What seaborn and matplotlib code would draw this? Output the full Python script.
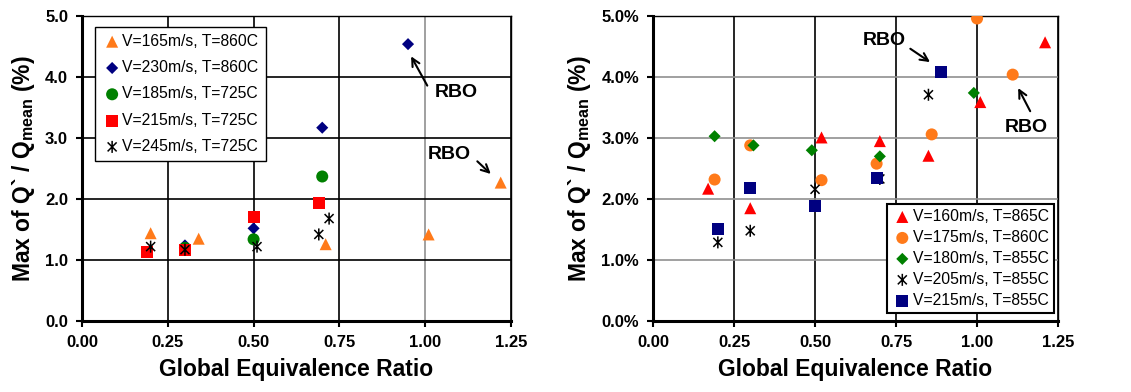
import numpy as np
import pandas as pd
import matplotlib
matplotlib.use("Agg")
import matplotlib.pyplot as plt
from matplotlib.path import Path
import seaborn as sns

sns.set_style("white")
plt.rcParams["font.family"] = ["Liberation Sans", "DejaVu Sans"]
plt.rcParams["mathtext.fontset"] = "custom"
plt.rcParams["mathtext.bf"] = "Liberation Sans:bold"
plt.rcParams["mathtext.rm"] = "Liberation Sans"
for key in ["text.color", "axes.labelcolor", "xtick.color", "ytick.color"]:
    plt.rcParams[key] = "black"

# ---- left panel data ----
left_labels = ["V=165m/s, T=860C", "V=230m/s, T=860C", "V=185m/s, T=725C",
               "V=215m/s, T=725C", "V=245m/s, T=725C"]
l165_x = [0.20, 0.34, 0.71, 1.01, 1.22]
l165_y = [1.44, 1.35, 1.26, 1.42, 2.27]
l230_x = [0.30, 0.50, 0.70, 0.95]
l230_y = [1.24, 1.52, 3.17, 4.54]
l185_x = [0.30, 0.50, 0.70]
l185_y = [1.20, 1.34, 2.37]
l215_x = [0.19, 0.30, 0.50, 0.69]
l215_y = [1.13, 1.17, 1.70, 1.93]
l245_x = [0.20, 0.30, 0.51, 0.69, 0.72]
l245_y = [1.22, 1.17, 1.22, 1.42, 1.68]

# ---- right panel data ----
right_labels = ["V=160m/s, T=865C", "V=175m/s, T=860C", "V=180m/s, T=855C",
                "V=205m/s, T=855C", "V=215m/s, T=855C"]
r160_x = [0.17, 0.30, 0.52, 0.70, 0.85, 1.01, 1.21]
r160_y = [2.17, 1.85, 3.01, 2.95, 2.71, 3.59, 4.57]
r175_x = [0.19, 0.30, 0.52, 0.69, 0.86, 1.00, 1.11]
r175_y = [2.32, 2.88, 2.31, 2.58, 3.06, 4.96, 4.04]
r180_x = [0.19, 0.31, 0.49, 0.70, 0.99]
r180_y = [3.03, 2.88, 2.80, 2.70, 3.74]
r205_x = [0.20, 0.30, 0.50, 0.70, 0.85]
r205_y = [1.29, 1.48, 2.16, 2.33, 3.71]
r215_x = [0.20, 0.30, 0.50, 0.69, 0.89]
r215_y = [1.51, 2.18, 1.89, 2.34, 4.09]

x_ticks = [0.00, 0.25, 0.50, 0.75, 1.00, 1.25]
y_ticks = [0.0, 1.0, 2.0, 3.0, 4.0, 5.0]

# Excel-style asterisk: vertical bar plus an X
ast = Path([(0, -1), (0, 1), (-0.75, -0.75), (0.75, 0.75), (-0.75, 0.75), (0.75, -0.75)],
           [Path.MOVETO, Path.LINETO, Path.MOVETO, Path.LINETO, Path.MOVETO, Path.LINETO])

left_series = [
    (l165_x, l165_y, "#FF7A1A", "^", 75),
    (l230_x, l230_y, "#000080", "D", 38),
    (l185_x, l185_y, "#008000", "o", 75),
    (l215_x, l215_y, "#FF0000", "s", 75),
    (l245_x, l245_y, "black", ast, 75),
]
right_series = [
    (r160_x, r160_y, "#FF0000", "^", 75),
    (r175_x, r175_y, "#FF7A1A", "o", 75),
    (r180_x, r180_y, "#008000", "D", 38),
    (r205_x, r205_y, "black", ast, 75),
    (r215_x, r215_y, "#000080", "s", 75),
]

fig = plt.figure(figsize=(11.31, 3.92), dpi=100)
ax1 = fig.add_axes([0.0725, 0.181, 0.3793, 0.778])
ax2 = fig.add_axes([0.5774, 0.181, 0.3581, 0.778])

ylab = r"Max of Q` / Q$_{\mathbf{mean}}$ (%)"


def draw(ax, series, labels):
    for (xs, ys, c, m, s), lab in zip(series, labels):
        df = pd.DataFrame({"x": xs, "y": ys})
        if m is ast:
            sns.scatterplot(data=df, x="x", y="y", ax=ax, marker=m, s=s,
                            facecolor="none", edgecolor=c, linewidth=1.1,
                            label=lab, zorder=3)
        else:
            sns.scatterplot(data=df, x="x", y="y", ax=ax, marker=m, s=s,
                            color=c, edgecolor="none", label=lab, zorder=3)
    ax.set_xlim(0, 1.25)
    ax.set_ylim(0, 5)
    ax.set_xticks(x_ticks)
    ax.set_yticks(y_ticks)
    ax.set_xticklabels([f"{v:.2f}" for v in x_ticks], fontsize=12, fontweight="bold")
    ax.set_xlabel("Global Equivalence Ratio", fontsize=16.5, fontweight="bold", labelpad=6)
    ax.set_ylabel(ylab, fontsize=16.5, fontweight="bold", labelpad=6)
    ax.tick_params(direction="out", length=4, width=1.5, pad=6,
                   left=True, bottom=True, colors="black")
    for side in ["top", "right"]:
        ax.spines[side].set_linewidth(1.0)
        ax.spines[side].set_color("black")
    for side in ["left", "bottom"]:
        ax.spines[side].set_linewidth(2.2)
        ax.spines[side].set_color("black")
    ax.grid(True, zorder=0)
    ax.set_axisbelow(True)


draw(ax1, left_series, left_labels)
draw(ax2, right_series, right_labels)

ax1.set_yticklabels([f"{v:.1f}" for v in y_ticks], fontsize=12, fontweight="bold")
ax2.set_yticklabels([f"{v:.1f}%" for v in y_ticks], fontsize=12, fontweight="bold")

# gridline colours as in the reference
for i, gl in enumerate(ax1.xaxis.get_gridlines()):
    gl.set_color("#909090" if x_ticks[i] == 1.00 else "black")
    gl.set_linewidth(1.2)
for gl in ax1.yaxis.get_gridlines():
    gl.set_color("black")
    gl.set_linewidth(1.2)
for gl in ax2.xaxis.get_gridlines():
    gl.set_color("black")
    gl.set_linewidth(1.2)
for gl in ax2.yaxis.get_gridlines():
    gl.set_color("#909090")
    gl.set_linewidth(1.2)

# legends
leg1 = ax1.legend(loc="upper left", bbox_to_anchor=(0.03, 0.965), fontsize=11.3,
                  frameon=True, fancybox=False, edgecolor="black", framealpha=1,
                  handletextpad=0.0, labelspacing=0.72, borderpad=0.45,
                  handlelength=1.3, borderaxespad=0)
leg1.get_frame().set_linewidth(1.0)
leg2 = ax2.legend(loc="lower right", bbox_to_anchor=(0.99, 0.025), fontsize=11.3,
                  frameon=True, fancybox=False, edgecolor="black", framealpha=1,
                  handletextpad=0.0, labelspacing=0.38, borderpad=0.35,
                  handlelength=1.3, borderaxespad=0)
leg2.get_frame().set_linewidth(1.5)

# RBO annotations
arrow = dict(arrowstyle="->", color="black", lw=1.5, mutation_scale=14)
ax1.annotate("", xy=(0.955, 4.38), xytext=(1.01, 3.82), arrowprops=arrow)
ax1.text(1.09, 3.74, "RBO", fontsize=14, fontweight="bold", ha="center", va="center")
ax1.annotate("", xy=(1.197, 2.38), xytext=(1.146, 2.65), arrowprops=arrow)
ax1.text(1.07, 2.73, "RBO", fontsize=14, fontweight="bold", ha="center", va="center")

ax2.annotate("", xy=(0.862, 4.22), xytext=(0.787, 4.49), arrowprops=arrow)
ax2.text(0.715, 4.60, "RBO", fontsize=14, fontweight="bold", ha="center", va="center")
ax2.annotate("", xy=(1.123, 3.86), xytext=(1.168, 3.40), arrowprops=arrow)
ax2.text(1.152, 3.18, "RBO", fontsize=14, fontweight="bold", ha="center", va="center")

fig.savefig("out.png", dpi=100)
